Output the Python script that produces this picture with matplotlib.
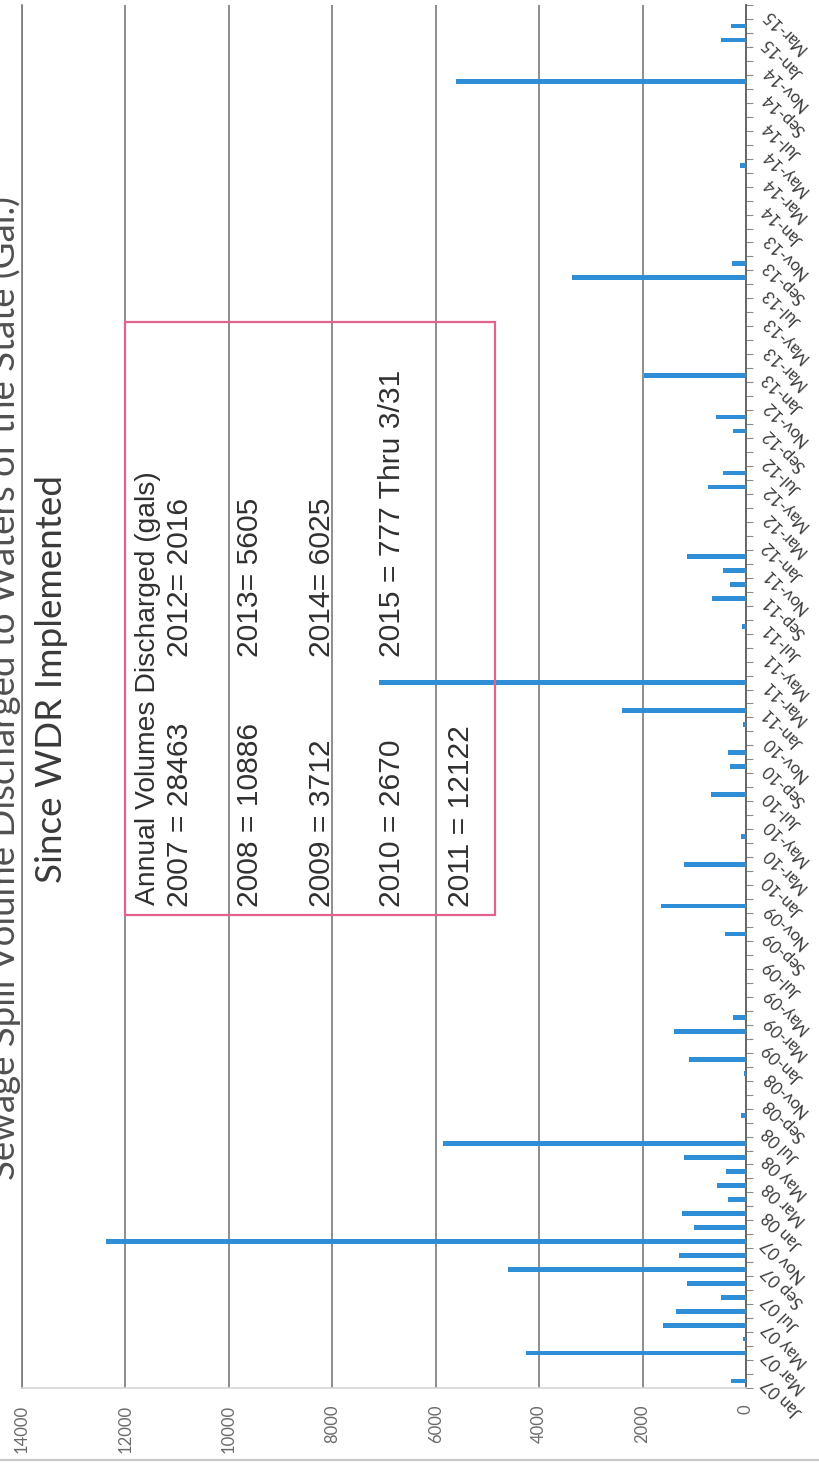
import numpy as np
import matplotlib
matplotlib.use("Agg")
import matplotlib.pyplot as plt
from matplotlib.patches import Rectangle
from matplotlib.lines import Line2D

# Monthly spill volumes (gallons), January..December
vol_2007 = [290, 0, 4250, 60, 1600, 1350, 480, 1150, 4600, 1300, 12380, 1003]
vol_2008 = [1230, 340, 560, 386, 1200, 5850, 0, 90, 0, 0, 40, 1100]
vol_2009 = [0, 1400, 260, 0, 0, 0, 0, 0, 400, 0, 1650, 0]
vol_2010 = [0, 1200, 0, 90, 0, 0, 680, 0, 300, 350, 0, 50]
vol_2011 = [2400, 0, 7100, 0, 0, 0, 80, 0, 650, 300, 450, 1142]
vol_2012 = [0, 0, 0, 0, 740, 440, 0, 0, 250, 586, 0, 0]
vol_2013 = [1980, 0, 0, 0, 0, 0, 0, 3360, 265, 0, 0, 0]
vol_2014 = [0, 0, 0, 125, 0, 0, 0, 0, 0, 5600, 0, 0]
vol_2015 = [490, 287, 0]  # through 3/31

# Category labels, one for every second month
month_labels = [
    "Jan 07", "Mar 07", "May 07", "Jul 07", "Sep 07", "Nov 07",
    "Jan 08", "Mar 08", "May 08", "Jul 08", "Sep-08", "Nov-08",
    "Jan-09", "Mar-09", "May-09", "Jul-09", "Sep-09", "Nov-09",
    "Jan-10", "Mar-10", "May-10", "Jul-10", "Sep-10", "Nov-10",
    "Jan-11", "Mar-11", "May-11", "Jul-11", "Sep-11", "Nov-11",
    "Jan-12", "Mar-12", "May-12", "Jul-12", "Sep-12", "Nov-12",
    "Jan-13", "Mar-13", "May-13", "Jul-13", "Sep-13", "Nov-13",
    "Jan-14", "Mar-14", "May-14", "Jul-14", "Sep-14", "Nov-14",
    "Jan-15", "Mar-15",
]

value_ticks = [0, 2000, 4000, 6000, 8000, 10000, 12000, 14000]

title = "Sewage Spill Volume Discharged to Waters of the State (Gal.)"
subtitle = "Since WDR Implemented"
box_header = "Annual Volumes Discharged (gals)"
box_left = ["2007 = 28463", "2008 = 10886", "2009 = 3712", "2010 = 2670", "2011 = 12122"]
box_right = ["2012= 2016", "2013= 5605", "2014= 6025", "2015 = 777 Thru 3/31"]

volumes = vol_2007 + vol_2008 + vol_2009 + vol_2010 + vol_2011 + vol_2012 + vol_2013 + vol_2014 + vol_2015

W, H, DPI = 820, 1470, 100
BAR = "#2f8fd6"
GRID = "#7a7a7a"

fig = plt.figure(figsize=(W / DPI, H / DPI), dpi=DPI)
fig.patch.set_facecolor("white")


def fx(px):
    return px / W


def fy(py):
    return 1.0 - py / H


# page is laid out sideways: months run upward, gallons run leftward
AX_L, AX_R, AX_T, AX_B = 22, 746, 5, 1388
ax = fig.add_axes([fx(AX_L), fy(AX_B), (AX_R - AX_L) / W, (AX_B - AX_T) / H])

idx = np.arange(len(volumes))
ax.barh(idx, volumes, height=0.34, color=BAR, zorder=3)
ax.set_xlim(14000, 0)
ax.set_ylim(-0.5, len(volumes) - 0.5)

ax.set_xticks(value_ticks)
ax.set_xticklabels([str(v) for v in value_ticks], rotation=90,
                   fontsize=12, color="#6a6a6a", family="Lato")
ax.tick_params(axis="x", length=0, pad=12)
ax.xaxis.grid(True, color=GRID, lw=1.2)
ax.set_axisbelow(True)

ax.yaxis.tick_right()
ax.set_yticks(idx[::2])
ax.set_yticklabels(month_labels, fontsize=12, color="#3c3c3c", family="Lato")
ax.set_yticks(np.arange(-0.5, len(volumes), 1), minor=True)
ax.tick_params(axis="y", which="major", length=0, pad=14)
ax.tick_params(axis="y", which="minor", length=5, width=0.8, color="#8a8a8a")
for lab in ax.get_yticklabels():
    lab.set_rotation(135)
    lab.set_rotation_mode("anchor")
    lab.set_ha("right")
    lab.set_va("center")

ax.spines["top"].set_visible(False)
ax.spines["right"].set_color("#666666")
ax.spines["right"].set_linewidth(1.4)
ax.spines["left"].set_color(GRID)
ax.spines["left"].set_linewidth(1.2)
ax.spines["bottom"].set_color("#d6d6d6")
ax.spines["bottom"].set_linewidth(1.2)

renderer = fig.canvas.get_renderer()


def fit_length(t, target_px):
    """Scale a rotated text so that it runs target_px along its reading direction."""
    bb = t.get_window_extent(renderer=renderer)
    t.set_fontsize(t.get_fontsize() * target_px / bb.height)


t_title = fig.text(fx(15), fy(688), title, rotation=90, rotation_mode="anchor",
                   ha="center", va="baseline", fontsize=22, color="#505050",
                   family="Lato")
fit_length(t_title, 983)

t_sub = fig.text(fx(62), fy(883), subtitle, rotation=90, rotation_mode="anchor",
                 ha="left", va="baseline", fontsize=24, color="#3a3a3a",
                 family="Lato")
fit_length(t_sub, 408)

# annual totals box
fig.add_artist(Rectangle((fx(125), fy(915)), (495 - 125) / W, (915 - 322) / H,
                         transform=fig.transFigure, fill=False,
                         ec="#e2628c", lw=1.6, zorder=5))

t_head = fig.text(fx(155), fy(905), box_header, rotation=90, rotation_mode="anchor",
                  ha="left", va="baseline", fontsize=20, color="#303030",
                  family="Liberation Sans")
fit_length(t_head, 432)

t_ref = fig.text(fx(400), fy(657), box_right[3], rotation=90, rotation_mode="anchor",
                 ha="left", va="baseline", fontsize=21, color="#303030",
                 family="Liberation Sans")
fit_length(t_ref, 287)
num_size = t_ref.get_fontsize()

left_base = [188, 258, 330, 400, 469]
for s, bx in zip(box_left, left_base):
    fig.text(fx(bx), fy(907), s, rotation=90, rotation_mode="anchor",
             ha="left", va="baseline", fontsize=num_size, color="#303030",
             family="Liberation Sans")
for s, bx in zip(box_right[:3], left_base[:3]):
    fig.text(fx(bx), fy(657), s, rotation=90, rotation_mode="anchor",
             ha="left", va="baseline", fontsize=num_size, color="#303030",
             family="Liberation Sans")

fig.add_artist(Line2D([0, 1], [fy(1460), fy(1460)], transform=fig.transFigure,
                      color="#c8c8c8", lw=1.5))

fig.savefig("out.png", dpi=DPI, facecolor="white")
